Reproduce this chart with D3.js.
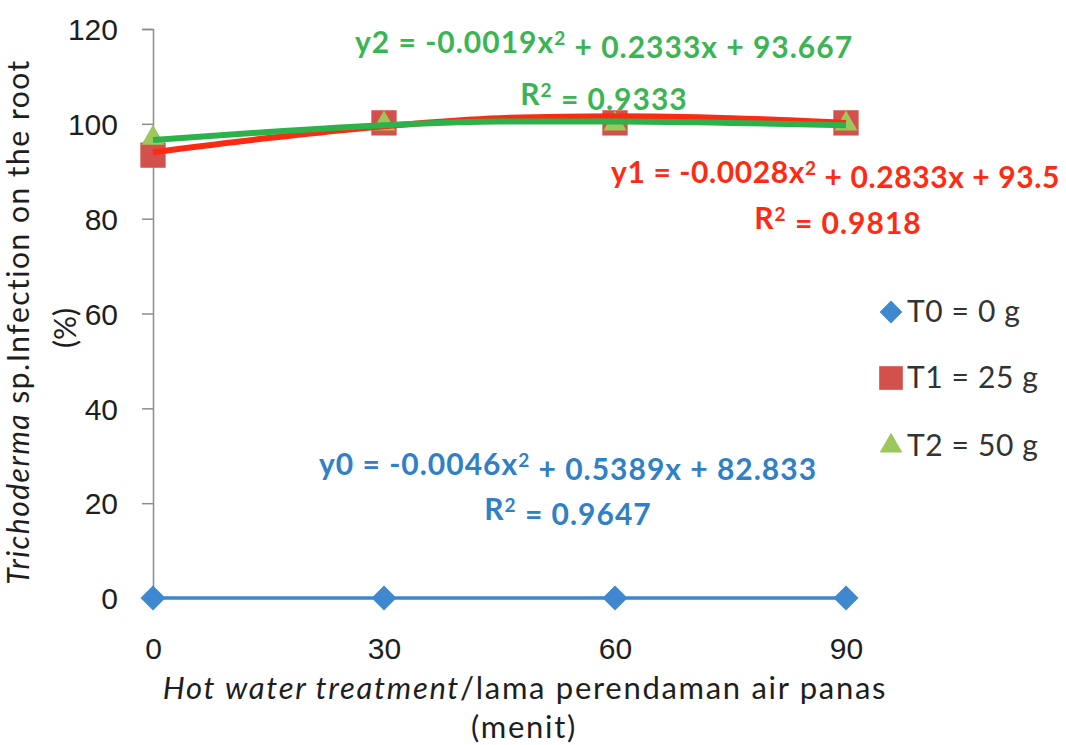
<!DOCTYPE html>
<html>
<head>
<meta charset="utf-8">
<script src="https://cdn.jsdelivr.net/npm/d3@7"></script>
<style>
  body { margin: 0; background: #fff; }
  svg { font-family: Lato, "Open Sans", sans-serif; }
</style>
</head>
<body>
<svg id="chart"></svg>
<script>
let minutes = [0, 30, 60, 90];
let t0Values = [0, 0, 0, 0];
let t1Values = [93.4, 100.2, 100.2, 100.2];
let t2Values = [97, 100, 100, 100];

// trend lines
let trendX = [0, 15, 30, 45, 60, 75, 90];
let t1Trend = [94.0, 97.0, 99.5, 101.2, 101.6, 101.2, 100.2];
let t2Trend = [96.6, 98.3, 99.7, 100.5, 100.5, 100.2, 99.7];

let yTicks = [0, 20, 40, 60, 80, 100, 120];
let legendNames = ["T0 = 0 g", "T1 = 25 g", "T2 = 50 g"];

let width = 1066;
let height = 745;
let padding = {top: 29, right: 220, bottom: 147, left: 153};

let blue = "#3f88d0";
let red = "#d4504c";
let green = "#9bc75b";

let svg = d3.select("#chart").attr("width", width).attr("height", height);

let xScale = d3.scaleLinear()
    .domain([0, 90])
    .range([padding.left, width - padding.right]);

let yScale = d3.scaleLinear()
    .domain([0, 120])
    .range([height - padding.bottom, padding.top]);

// y axis
let yAxis = d3.axisLeft(yScale).tickValues(yTicks).tickSize(11).tickPadding(24);
let gy = svg.append("g")
    .attr("transform", "translate(" + padding.left + ",0)")
    .call(yAxis);
gy.select(".domain").attr("stroke", "#8c8c8c").attr("stroke-width", 1.5);
gy.selectAll(".tick line").attr("stroke", "#8c8c8c").attr("stroke-width", 1.5);
gy.selectAll(".tick text")
    .attr("fill", "#1e1e1e")
    .style("font-size", "30px")
    .attr("dy", "0.36em");

// x tick labels, no axis line
let xAxis = d3.axisBottom(xScale).tickValues(minutes).tickSize(0).tickPadding(0);
let gx = svg.append("g")
    .attr("transform", "translate(0,659)")
    .call(xAxis);
gx.select(".domain").remove();
gx.selectAll(".tick text")
    .attr("fill", "#1e1e1e")
    .attr("dy", 0)
    .style("font-size", "30px");

// axis titles
let ytitle = svg.append("text")
    .attr("transform", "translate(29,322)rotate(-90)")
    .attr("text-anchor", "middle")
    .attr("fill", "#1e1e1e")
    .style("font-size", "30px")
    .style("letter-spacing", "1.5px");
ytitle.append("tspan").style("font-style", "italic").text("Trichoderma");
ytitle.append("tspan").text(" sp.Infection on the root");

svg.append("text")
    .attr("transform", "translate(76,328)rotate(-90)")
    .attr("text-anchor", "middle")
    .attr("fill", "#1e1e1e")
    .style("font-size", "30px")
    .text("(%)");

let xtitle = svg.append("text")
    .attr("x", 525)
    .attr("y", 699)
    .attr("text-anchor", "middle")
    .attr("fill", "#1e1e1e")
    .style("font-size", "31px")
    .style("letter-spacing", "1.7px");
xtitle.append("tspan").style("font-style", "italic").text("Hot water treatment");
xtitle.append("tspan").text("/lama  perendaman air panas");

svg.append("text")
    .attr("x", 524)
    .attr("y", 738)
    .attr("text-anchor", "middle")
    .attr("fill", "#1e1e1e")
    .style("font-size", "31px")
    .style("letter-spacing", "1.7px")
    .text("(menit)");

// T0 series line
let line = d3.line()
    .x((d, i) => xScale(minutes[i]))
    .y(d => yScale(d));

svg.append("path")
    .datum(t0Values)
    .attr("d", line)
    .attr("fill", "none")
    .attr("stroke", "#3a86cf")
    .attr("stroke-width", 3.5);

// markers
let diamond = d3.symbol().type(d3.symbolDiamond2).size(400);
let square = d3.symbol().type(d3.symbolSquare).size(640);
let triangle = d3.symbol().type(d3.symbolTriangle2).size(380);

svg.selectAll(".t0")
    .data(t0Values)
    .enter()
    .append("path")
    .attr("class", "t0")
    .attr("d", diamond)
    .attr("transform", (d, i) => "translate(" + xScale(minutes[i]) + "," + yScale(d) + ")")
    .attr("fill", blue);

svg.selectAll(".t1")
    .data(t1Values)
    .enter()
    .append("path")
    .attr("class", "t1")
    .attr("d", square)
    .attr("transform", (d, i) => "translate(" + xScale(minutes[i]) + "," + yScale(d) + ")")
    .attr("fill", red);

svg.selectAll(".t2")
    .data(t2Values)
    .enter()
    .append("path")
    .attr("class", "t2")
    .attr("d", triangle)
    .attr("transform", (d, i) => "translate(" + xScale(minutes[i]) + "," + yScale(d) + ")")
    .attr("fill", green);

// trend lines
let trendLine = d3.line()
    .x((d, i) => xScale(trendX[i]))
    .y(d => yScale(d))
    .curve(d3.curveMonotoneX);

svg.append("path")
    .datum(t1Trend)
    .attr("d", trendLine)
    .attr("fill", "none")
    .attr("stroke", "#ff2a12")
    .attr("stroke-width", 6);

svg.append("path")
    .datum(t2Trend)
    .attr("d", trendLine)
    .attr("fill", "none")
    .attr("stroke", "#2db24b")
    .attr("stroke-width", 6);

// equations
let addEq = (x, y, anchor, color, spacing, parts) => {
    let t = svg.append("text")
        .attr("x", x)
        .attr("y", y)
        .attr("text-anchor", anchor)
        .attr("fill", color)
        .style("font-size", "30px")
        .style("font-weight", "bold")
        .style("letter-spacing", spacing + "px");
    parts.forEach(p => {
        if (p.sup) {
            t.append("tspan").attr("dy", "-0.42em").style("font-size", "19px").text(p.sup);
            t.append("tspan").attr("dy", "0.42em").text(p.text);
        } else {
            t.append("tspan").text(p.text);
        }
    });
};

let greenText = "#3bb454";
let redText = "#ff2a12";
let blueText = "#2f80c6";

addEq(604, 53, "middle", greenText, 1, [{text: "y2 = -0.0019x"}, {sup: "2", text: " + 0.2333x + 93.667"}]);
addEq(604, 105, "middle", greenText, 1, [{text: "R"}, {sup: "2", text: " = 0.9333"}]);
addEq(1060, 183, "end", redText, 0.6, [{text: "y1 = -0.0028x"}, {sup: "2", text: " + 0.2833x + 93.5"}]);
addEq(838, 229, "middle", redText, 1, [{text: "R"}, {sup: "2", text: " = 0.9818"}]);
addEq(568, 475, "middle", blueText, 1, [{text: "y0 = -0.0046x"}, {sup: "2", text: " + 0.5389x + 82.833"}]);
addEq(568, 520, "middle", blueText, 1, [{text: "R"}, {sup: "2", text: " = 0.9647"}]);

// legend
let legendSymbols = [
    {sym: d3.symbol().type(d3.symbolDiamond2).size(330), color: blue},
    {sym: d3.symbol().type(d3.symbolSquare).size(560), color: red},
    {sym: d3.symbol().type(d3.symbolTriangle2).size(370), color: green}
];
let legendY = [312, 378, 446];

legendNames.forEach((name, i) => {
    svg.append("path")
        .attr("d", legendSymbols[i].sym)
        .attr("transform", "translate(891," + legendY[i] + ")")
        .attr("fill", legendSymbols[i].color);
    svg.append("text")
        .attr("x", 907)
        .attr("y", legendY[i] + 10)
        .attr("fill", "#333")
        .style("font-size", "30px")
        .style("letter-spacing", "0.6px")
        .text(name);
});
</script>
</body>
</html>
